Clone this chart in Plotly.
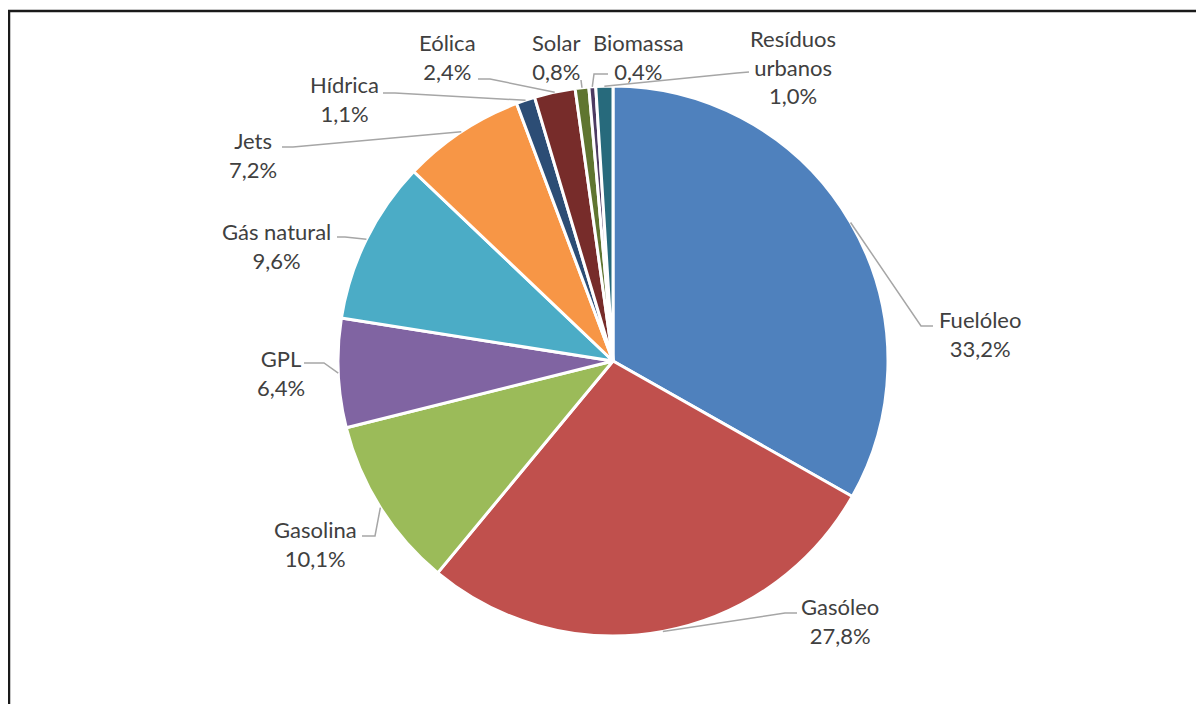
import math
import plotly.graph_objects as go

# ---- data ----
categories = ["Fuelóleo", "Gasóleo", "Gasolina", "GPL", "Gás natural", "Jets",
              "Hídrica", "Eólica", "Solar", "Biomassa", "Resíduos urbanos"]
values = [33.2, 27.8, 10.1, 6.4, 9.6, 7.2, 1.1, 2.4, 0.8, 0.4, 1.0]
label_texts = ["Fuelóleo", "Gasóleo", "Gasolina", "GPL", "Gás natural", "Jets",
               "Hídrica", "Eólica", "Solar", "Biomassa", "Resíduos<br>urbanos"]
colors = ["#4F81BD", "#C0504D", "#9BBB59", "#8064A2", "#4BACC6", "#F79646",
          "#2C4D75", "#772C2A", "#5F7530", "#4D3B62", "#276A7C"]

# ---- layout (screen pixels) ----
SW, SH = 1204, 704          # window
OFF = 8                     # page body margin
W, H = SW - OFF, SH - OFF   # figure size
CX, CY, R = 613, 361, 275
# label block centres
label_pos = [(980, 334), (840, 621), (315, 544), (281, 373), (276, 246), (253, 155),
             (344, 99), (447, 57), (556, 57), (638, 57), (793, 67)]
# leader line elbow and end points near the labels
leader_pts = [
    [(921, 326), (933, 326)],
    [(785, 613), (797, 613)],
    [(375, 536), (362, 536)],
    [(324, 363), (304, 363)],
    [(345, 237), (337, 237)],
    [(293, 147), (282, 147)],
    [(395, 93), (383, 93)],
    [(490, 79), (478, 79)],
    [(581, 80), (581, 80)],
    [(594, 74), (608, 74)],
    [(737, 73), (749, 72)],
]

def px(x):
    return (x - OFF) / W

def py(y):
    return 1 - (y - OFF) / H

fig = go.Figure()
fig.add_trace(go.Pie(
    labels=categories,
    values=values,
    sort=False,
    direction="clockwise",
    rotation=0,
    marker=dict(colors=colors, line=dict(color="white", width=3)),
    textinfo="none",
    hoverinfo="label+percent",
    showlegend=False,
    domain=dict(x=[px(CX - R), px(CX + R)], y=[py(CY + R), py(CY - R)]),
))

total = sum(values)
cum = 0.0
shapes = []
annotations = []
for i, v in enumerate(values):
    mid = (cum + v / 2) / total * 2 * math.pi
    cum += v
    sx = CX + R * math.sin(mid)
    sy = CY - R * math.cos(mid)
    pts = [(sx, sy)] + leader_pts[i]
    path = "M {} {}".format(px(pts[0][0]), py(pts[0][1]))
    for (x, y) in pts[1:]:
        path += " L {} {}".format(px(x), py(y))
    shapes.append(dict(type="path", xref="paper", yref="paper", path=path,
                       line=dict(color="#A6A6A6", width=1.5)))
    pct = ("{:.1f}%".format(v / total * 100)).replace(".", ",")
    lx, ly = label_pos[i]
    annotations.append(dict(
        x=px(lx), y=py(ly), xref="paper", yref="paper",
        text="{}<br>{}".format(label_texts[i], pct),
        showarrow=False, xanchor="center", yanchor="middle", align="center",
        font=dict(family="Lato", size=22, color="#404040"),
    ))

# outer frame
shapes.append(dict(type="rect", xref="paper", yref="paper",
                   x0=px(9), y0=py(11), x1=px(SW + 20), y1=py(SH + 20),
                   line=dict(color="#1a1a1a", width=2.5), fillcolor="rgba(0,0,0,0)"))

fig.update_layout(
    width=W, height=H,
    margin=dict(l=0, r=0, t=0, b=0),
    paper_bgcolor="white",
    plot_bgcolor="white",
    shapes=shapes,
    annotations=annotations,
)

fig.write_html("out.html")
